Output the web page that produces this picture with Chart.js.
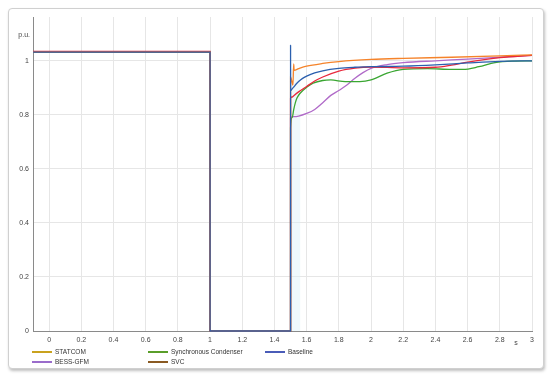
<!DOCTYPE html>
<html>
<head>
<meta charset="utf-8">
<script src="https://cdn.jsdelivr.net/npm/chart.js@4/dist/chart.umd.min.js"></script>
<style>
  html, body { margin: 0; padding: 0; background: #fff; }
  #wrap { position: relative; width: 550px; height: 375px; overflow: hidden; }
  #frame {
    position: absolute; left: 8px; top: 8px; width: 534px; height: 359px;
    border: 1px solid #d0d0d0; border-radius: 4px;
    box-shadow: 1px 2px 3px rgba(0,0,0,0.25); background: #fff;
  }
  #chart { position: absolute; left: 0; top: 0; }
  .legend { position: absolute; font: 6.5px 'Liberation Sans', Arial, sans-serif; color: #333; white-space: nowrap; }
  .legend .sw { position: absolute; top: 3px; width: 20px; height: 1.5px; }
  .legend .lb { position: absolute; left: 23px; top: 0; line-height: 8px; }
</style>
</head>
<body>
<div id="wrap">
  <div id="frame"></div>
  <canvas id="chart" width="550" height="375"></canvas>
  <div id="legend"></div>
</div>
<script>
// --- DATA ---
const xTicks = [0, 0.2, 0.4, 0.6, 0.8, 1, 1.2, 1.4, 1.6, 1.8, 2, 2.2, 2.4, 2.6, 2.8, 3];
const yTicks = [0, 0.2, 0.4, 0.6, 0.8, 1];

// pre-fault and fault period (shared by all series)
const faultT = [-0.1, 1.0, 1.0001, 1.5];
const faultShape = [1, 1, 0, 0]; // multiplied by each series' pre-fault level

// recovery after fault clearing, per series
const baselinePre = 1.032;
const baselineT = [1.5001, 1.5003, 1.51, 1.52, 1.535, 1.55, 1.575, 1.6, 1.65, 1.7, 1.8, 1.9, 2.0, 2.2, 2.4, 2.6, 2.8, 3.0];
const baselineV = [1.057, 0.89, 0.896, 0.903, 0.914, 0.923, 0.935, 0.943, 0.955, 0.963, 0.972, 0.976, 0.978, 0.98, 0.985, 0.992, 0.998, 1.0];

const svcPre = 1.035;
const svcT = [1.5001, 1.51, 1.52, 1.55, 1.6, 1.65, 1.7, 1.8, 1.9, 2.0, 2.2, 2.4, 2.5, 2.6, 2.8, 3.0];
const svcV = [0.862, 0.866, 0.871, 0.885, 0.905, 0.925, 0.94, 0.962, 0.973, 0.977, 0.974, 0.976, 0.984, 0.995, 1.012, 1.02];

const statcomPre = 1.032;
const statcomT = [1.5001, 1.515, 1.5195, 1.522, 1.55, 1.6, 1.7, 1.8, 2.0, 2.2, 2.5, 2.8, 3.0];
const statcomV = [0.94, 0.91, 0.988, 0.965, 0.971, 0.98, 0.99, 0.997, 1.005, 1.009, 1.013, 1.018, 1.022];

const syncT = [1.5001, 1.51, 1.52, 1.53, 1.54, 1.558, 1.6, 1.64, 1.7, 1.75, 1.84, 1.93, 2.0, 2.1, 2.2, 2.35, 2.5, 2.57, 2.67, 2.77, 2.9, 3.0];
const syncV = [0.752, 0.79, 0.82, 0.845, 0.862, 0.879, 0.902, 0.917, 0.927, 0.929, 0.923, 0.923, 0.929, 0.954, 0.968, 0.971, 0.968, 0.968, 0.978, 0.993, 0.999, 1.0];

const bessT = [1.5001, 1.52, 1.55, 1.6, 1.65, 1.7, 1.75, 1.8, 1.85, 1.9, 1.95, 2.0, 2.1, 2.2, 2.4, 2.6, 2.8, 3.0];
const bessV = [0.79, 0.793, 0.795, 0.805, 0.82, 0.845, 0.872, 0.89, 0.91, 0.935, 0.956, 0.972, 0.986, 0.993, 1.0, 1.006, 1.013, 1.02];

const faultBand = [1.5, 1.56]; // light shading after clearing
const unitY = 'p.u.';
const unitX = 's';

const fontFamily = "'Liberation Sans', Arial, sans-serif";

function buildSeries(pre, t, v) {
    const pts = faultT.map((x, i) => ({ x: x, y: faultShape[i] * pre }));
    t.forEach((x, i) => pts.push({ x: x, y: v[i] }));
    return pts;
}

// first entries are drawn on top
const seriesList = [
    { label: 'Baseline', color: '#2b5fae', legend: '#4a5cb8', data: buildSeries(baselinePre, baselineT, baselineV) },
    { label: 'STATCOM', color: '#f5832a', legend: '#c9a21e', data: buildSeries(statcomPre, statcomT, statcomV) },
    { label: 'SVC', color: '#e8283c', legend: '#8a5a22', data: buildSeries(svcPre, svcT, svcV) },
    { label: 'Synchronous Condenser', color: '#3aa632', legend: '#5a9e2a', data: buildSeries(baselinePre, syncT, syncV) },
    { label: 'BESS-GFM', color: '#b06ac8', legend: '#9a6ccb', data: buildSeries(baselinePre, bessT, bessV) },
];

// --- PLUGIN: band + axis units ---
const extrasPlugin = {
    id: 'extras',
    beforeDatasetsDraw(chart) {
        const { ctx, scales: { x, y } } = chart;
        const x0 = x.getPixelForValue(faultBand[0]);
        const x1 = x.getPixelForValue(faultBand[1]);
        ctx.save();
        ctx.fillStyle = 'rgba(215, 240, 248, 0.4)';
        ctx.fillRect(x0, y.getPixelForValue(0.97), x1 - x0, y.getPixelForValue(0) - y.getPixelForValue(0.97));
        ctx.restore();
    },
    afterDraw(chart) {
        const { ctx, scales: { x, y } } = chart;
        ctx.save();
        ctx.font = '7px ' + fontFamily;
        ctx.fillStyle = '#444';
        ctx.textAlign = 'right';
        ctx.textBaseline = 'middle';
        ctx.fillText(unitY, y.right - 3, y.getPixelForValue(1.095));
        ctx.textAlign = 'center';
        ctx.fillText(unitX, x.getPixelForValue(2.9), x.top + 12);
        ctx.restore();
    }
};

const fmt = v => String(Number(v.toFixed(1)));

new Chart(document.getElementById('chart').getContext('2d'), {
    type: 'line',
    data: {
        datasets: seriesList.map(s => ({
            label: s.label,
            data: s.data,
            borderColor: s.color,
            backgroundColor: s.color,
            borderWidth: 1.3,
            pointRadius: 0,
            cubicInterpolationMode: 'monotone',
            clip: 4
        }))
    },
    options: {
        responsive: false,
        animation: false,
        layout: { padding: { left: 8, top: 17, right: 18, bottom: 30 } },
        plugins: { legend: { display: false }, tooltip: { enabled: false } },
        scales: {
            x: {
                type: 'linear',
                min: -0.1,
                max: 3,
                afterBuildTicks: s => { s.ticks = xTicks.map(v => ({ value: v })); },
                afterFit: s => { s.height = 14; },
                ticks: { callback: fmt, font: { size: 7, family: fontFamily }, color: '#444', padding: 5, maxRotation: 0 },
                grid: { color: '#e6e6e6', lineWidth: 1, drawTicks: false },
                border: { color: '#8a8a8a', width: 1 }
            },
            y: {
                type: 'linear',
                min: 0,
                max: 1.162,
                afterBuildTicks: s => { s.ticks = yTicks.map(v => ({ value: v })); },
                afterFit: s => { s.width = 25; },
                ticks: { callback: fmt, font: { size: 7, family: fontFamily }, color: '#444', padding: 4 },
                grid: { color: '#e6e6e6', lineWidth: 1, drawTicks: false },
                border: { color: '#8a8a8a', width: 1 }
            }
        }
    },
    plugins: [extrasPlugin]
});

// --- HTML legend (3 columns, 2 rows) ---
const legendOrder = ['STATCOM', 'Synchronous Condenser', 'Baseline', 'BESS-GFM', 'SVC'];
const legendCols = [32, 148, 265];
const legendRows = [348, 358];
const legendEl = document.getElementById('legend');
legendOrder.forEach((name, i) => {
    const s = seriesList.find(d => d.label === name);
    const item = document.createElement('div');
    item.className = 'legend';
    item.style.left = legendCols[i % 3] + 'px';
    item.style.top = legendRows[Math.floor(i / 3)] + 'px';
    item.innerHTML = `<span class="sw" style="background:${s.legend}"></span><span class="lb">${name}</span>`;
    legendEl.appendChild(item);
});
</script>
</body>
</html>
